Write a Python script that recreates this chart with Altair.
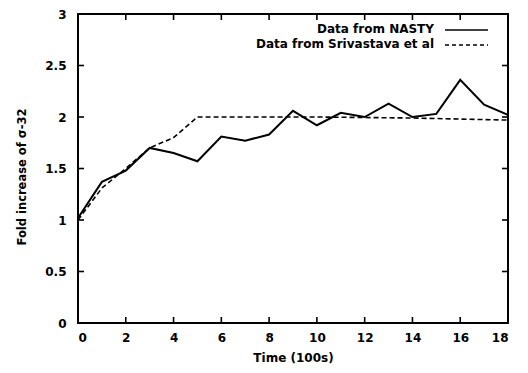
import altair as alt
import pandas as pd

# Data
time = list(range(0, 19))
nasty = [1.02, 1.37, 1.48, 1.70, 1.65, 1.57, 1.81, 1.77, 1.83, 2.06,
         1.92, 2.04, 2.00, 2.13, 2.00, 2.03, 2.36, 2.12, 2.02]
sriv_time = [0, 1, 2, 3, 4, 5, 10, 14, 18]
sriv_vals = [1.00, 1.31, 1.50, 1.70, 1.80, 2.00, 2.00, 1.99, 1.97]

x_ticks = [0, 2, 4, 6, 8, 10, 12, 14, 16, 18]
y_ticks = [0, 0.5, 1, 1.5, 2, 2.5, 3]
x_inner = [2, 4, 6, 8, 10, 12, 14, 16]
y_inner = [0.5, 1, 1.5, 2, 2.5]
legend_labels = ["Data from NASTY", "Data from Srivastava et al"]

W, H = 430, 309
FONT = "DejaVu Sans"

df_n = pd.DataFrame({"t": time, "v": nasty})
df_s = pd.DataFrame({"t": sriv_time, "v": sriv_vals})
df_xt = pd.DataFrame({"t": x_inner})
df_yt = pd.DataFrame({"v": y_inner})

xs = alt.Scale(domain=[0, 18], nice=False, zero=False)
ys = alt.Scale(domain=[0, 3], nice=False)

xaxis = alt.Axis(values=x_ticks, format="d", ticks=False, tickSize=0, domain=False,
                 grid=False, labelPadding=9, labelFont=FONT, labelFontSize=12,
                 labelFontWeight="bold", labelColor="black",
                 title="Time (100s)", titleFont=FONT, titleFontSize=12,
                 titleFontWeight="bold", titleColor="black",
                 titleX=W / 2, titleY=34, titleBaseline="middle")
yaxis = alt.Axis(values=y_ticks, format="~g", ticks=False, tickSize=0, domain=False,
                 grid=False, labelPadding=12, labelFont=FONT, labelFontSize=12,
                 labelFontWeight="bold", labelColor="black",
                 title="Fold increase of σ-32", titleFont=FONT, titleFontSize=11.5,
                 titleFontWeight="bold", titleColor="black",
                 titleX=-56, titleY=H / 2 + 8, titleBaseline="middle")

nasty_line = alt.Chart(df_n).mark_line(color="black", strokeWidth=2).encode(
    x=alt.X("t:Q", scale=xs, axis=xaxis),
    y=alt.Y("v:Q", scale=ys, axis=yaxis),
)
sriv_line = alt.Chart(df_s).mark_line(color="black", strokeWidth=1.6,
                                      strokeDash=[5, 3]).encode(
    x=alt.X("t:Q", scale=xs),
    y=alt.Y("v:Q", scale=ys),
)

tick_style = dict(color="black", strokeWidth=1.6)
yt_left = alt.Chart(df_yt).mark_rule(**tick_style).encode(
    y=alt.Y("v:Q", scale=ys), x=alt.value(0), x2=alt.value(6))
yt_right = alt.Chart(df_yt).mark_rule(**tick_style).encode(
    y=alt.Y("v:Q", scale=ys), x=alt.value(W - 6), x2=alt.value(W))
xt_bot = alt.Chart(df_xt).mark_rule(**tick_style).encode(
    x=alt.X("t:Q", scale=xs), y=alt.value(H - 6), y2=alt.value(H))
xt_top = alt.Chart(df_xt).mark_rule(**tick_style).encode(
    x=alt.X("t:Q", scale=xs), y=alt.value(0), y2=alt.value(6))

leg_df1 = pd.DataFrame({"label": [legend_labels[0]]})
leg_df2 = pd.DataFrame({"label": [legend_labels[1]]})
leg_txt1 = alt.Chart(leg_df1).mark_text(align="right", baseline="middle", font=FONT,
                                        fontSize=12, fontWeight="bold", color="black").encode(
    text="label:N", x=alt.value(356), y=alt.value(15))
leg_txt2 = alt.Chart(leg_df2).mark_text(align="right", baseline="middle", font=FONT,
                                        fontSize=12, fontWeight="bold", color="black").encode(
    text="label:N", x=alt.value(356), y=alt.value(30))
leg_line1 = alt.Chart(leg_df1).mark_rule(color="black", strokeWidth=1.6).encode(
    x=alt.value(367), x2=alt.value(410), y=alt.value(16))
leg_line2 = alt.Chart(leg_df2).mark_rule(color="black", strokeWidth=1.6,
                                         strokeDash=[4, 3]).encode(
    x=alt.value(367), x2=alt.value(410), y=alt.value(31))

chart = alt.layer(
    nasty_line, sriv_line, yt_left, yt_right, xt_bot, xt_top,
    leg_txt1, leg_txt2, leg_line1, leg_line2,
).properties(
    width=W, height=H,
    autosize=alt.AutoSizeParams(type="none"),
    padding={"left": 70, "top": 6, "right": 12, "bottom": 42},
    background="white",
).configure_view(stroke="black", strokeWidth=2)

chart.save("out.html", embed_options={"renderer": "svg", "actions": False})
